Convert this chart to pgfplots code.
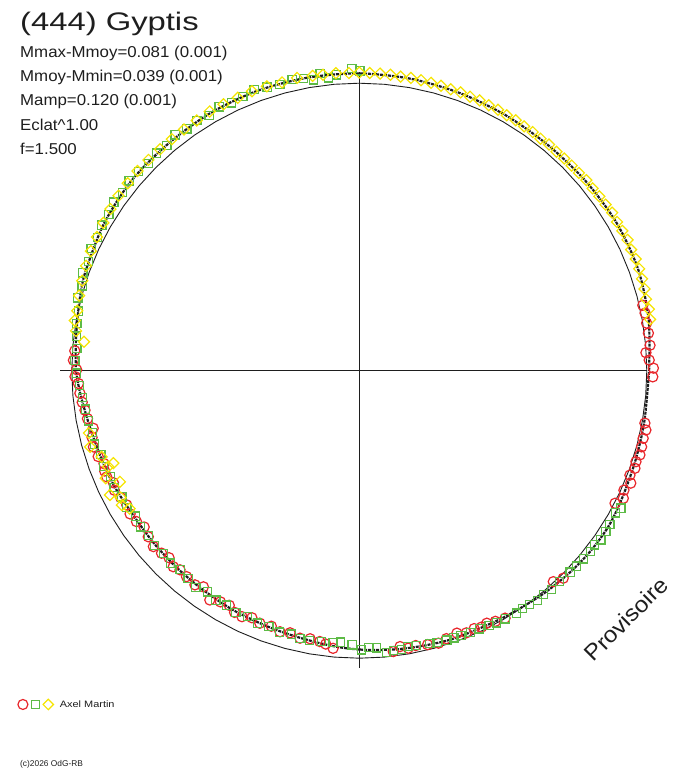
\documentclass[border=0pt]{standalone}
\usepackage{fontspec}
\setmainfont{Liberation Sans}
\usepackage{pgfplots}
\pgfplotsset{compat=1.18}
\usepgfplotslibrary{polar}
\definecolor{myred}{RGB}{232,38,43}
\definecolor{mygreen}{RGB}{93,187,70}
\definecolor{myyellow}{RGB}{245,228,0}
\definecolor{ink}{RGB}{30,30,30}
\begin{document}
\begin{tikzpicture}
\path[use as bounding box] (0,0) rectangle (688bp,768bp);
\begin{polaraxis}[
  at={(359.3bp,397.3bp)}, anchor=origin,
  hide axis, scale only axis, width=632.5bp, height=632.5bp,
  xmin=0, xmax=360, ymin=0, ymax=1.1, clip=false,
  legend style={draw=none, fill=none, at={(axis description cs:-0.0407,-0.0277)}, anchor=west,
    inner sep=0pt, outer sep=0pt, nodes={inner sep=0pt, text=ink},
    font=\fontsize{9.3}{11}\selectfont},
]
% reference circle
\addplot[ink, line width=0.9bp, forget plot] coordinates {
(0,1)(5,1)(10,1)(15,1)(20,1)(25,1)(30,1)(35,1)(40,1)(45,1)(50,1)(55,1)(60,1)(65,1)(70,1)(75,1)(80,1)(85,1)(90,1)
(95,1)(100,1)(105,1)(110,1)(115,1)(120,1)(125,1)(130,1)(135,1)(140,1)(145,1)(150,1)(155,1)(160,1)(165,1)(170,1)(175,1)(180,1)
(185,1)(190,1)(195,1)(200,1)(205,1)(210,1)(215,1)(220,1)(225,1)(230,1)(235,1)(240,1)(245,1)(250,1)(255,1)(260,1)(265,1)(270,1)
(275,1)(280,1)(285,1)(290,1)(295,1)(300,1)(305,1)(310,1)(315,1)(320,1)(325,1)(330,1)(335,1)(340,1)(345,1)(350,1)(355,1)(360,1)};
% axes cross
\addplot[ink, line width=1.2bp, forget plot] coordinates {(180,1.041) (0,1.0)};
\addplot[ink, line width=1.2bp, forget plot] coordinates {(90,1.039) (270,1.034)};
% red circles
\addplot[only marks, mark=o, mark size=5.1bp, mark options={myred, line width=1.2bp}, forget plot] coordinates {
(0.5,1.023)(2.1,1.009)(3.6,0.999)(5.0,1.015)(7.4,1.014)(9.4,1.013)(11.4,1.014)(13,1.012)
(176,0.992)(177.9,0.995)(179.8,0.983)(181.2,0.989)(182.6,0.978)(184.6,0.975)(186.5,0.970)(188.2,0.964)(190,0.960)
(192.2,0.947)(194,0.958)(196,0.962)(198.2,0.956)(200,0.945)(201.5,0.952)(202.8,0.953)(204.5,0.940)(206,0.948)
(208,0.940)(210,0.934)(212,0.940)(214.1,0.936)(216,0.925)(218.2,0.934)(220.5,0.942)(222.7,0.936)(224.5,0.928)
(226.5,0.940)(228,0.932)(230,0.935)(232.5,0.939)(234.2,0.927)(236.9,0.952)(239,0.938)(241,0.933)(242.7,0.946)
(244.5,0.948)(246.5,0.937)(248.5,0.944)(251,0.940)(253.1,0.949)(255.2,0.943)(257.5,0.953)(259.6,0.948)(261.7,0.952)
(263,0.958)(264.6,0.970)
(276.9,0.984)(278.4,0.970)(280,0.980)(281.6,0.976)(284,0.982)(286.2,0.987)(288,0.980)(290.4,0.974)(292.2,0.985)
(294,0.982)(295.5,0.988)(296.8,0.984)(298.5,0.992)(300.5,0.999)(312.6,0.997)(314.5,1.012)
(332.6,1.002)(334.2,1.020)(335.7,1.010)(337.5,1.022)(338.9,1.009)(340.5,1.017)(341.8,1.013)(343.3,1.019)
(344.9,1.017)(346.6,1.015)(348.3,1.018)(349.6,1.010)(358.8,1.021)};
% green squares
\addplot[only marks, mark=square, mark size=4.1bp, mark options={mygreen, line width=1.2bp}, forget plot] coordinates {
(89.9,1.043)(91.4,1.052)(94.4,1.032)(96,1.024)(97.5,1.043)(99,1.024)(100.8,1.035)
(103,1.040)(105.5,1.033)(108,1.037)(110.5,1.044)(113,1.036)(115.5,1.032)(118,1.039)(120.5,1.030)(123,1.037)
(125.5,1.033)(128,1.041)(130.5,1.031)(133,1.035)(135.5,1.028)(138,1.034)(140.5,1.038)(143,1.031)(145.5,1.036)
(148,1.027)(150.5,1.029)(153,1.021)(155.5,1.025)(158,1.016)(160.5,1.020)(163,1.008)(165.5,1.011)(168,0.998)
(170.5,0.996)(173,0.990)(175.5,0.985)(178,0.990)(180.5,0.983)(183,0.975)(185.5,0.968)(188,0.962)(190.5,0.958)
(193,0.952)(195.5,0.956)(198,0.945)(200.5,0.950)(203,0.940)(205.5,0.945)(208,0.935)(210.5,0.938)(213,0.929)
(215.5,0.936)(218,0.930)(220.5,0.937)(223,0.932)(225.5,0.938)(228,0.931)(230.5,0.936)(233,0.944)(235.5,0.934)
(238,0.941)(240.5,0.937)(243,0.945)(245.5,0.940)(248,0.947)(250.5,0.943)(253,0.951)(255.5,0.946)(257.5,0.955)
(259.6,0.955)(262,0.952)(264.5,0.950)(266,0.946)(268.5,0.954)(270.5,0.971)(272,0.963)(273.5,0.966)(275.5,0.985)
(277,0.981)(278.6,0.980)(280,0.975)(281.7,0.977)(284.5,0.980)(286,0.983)(288,0.985)(289.5,0.986)(291,0.987)
(293,0.990)(295,0.991)(297,0.994)(298.5,0.998)(300.5,1.002)(303,1.005)(304.5,1.004)(306,1.006)(307.8,1.012)
(309.5,1.008)(311.3,1.013)(313.5,1.012)(316.3,1.014)(318,1.016)(320,1.018)(322,1.020)(323.5,1.019)(325,1.026)
(326.9,1.024)(328.5,1.022)(331,1.020)(332.3,1.028)};
% yellow diamonds
\addplot[only marks, mark=square, mark size=3.9bp, mark options={myyellow, line width=1.2bp, rotate=45}, forget plot] coordinates {
(10,1.027)(12,1.030)(14,1.028)(16,1.032)(18,1.034)(20,1.036)(22,1.037)(24,1.035)(26,1.038)(28,1.036)(30,1.035)
(32,1.037)(34,1.033)(36,1.032)(38,1.030)(40,1.031)(42,1.028)(44,1.027)(46,1.026)(48,1.025)(50,1.027)(52,1.024)
(54,1.026)(56,1.025)(58,1.027)(60,1.026)(62,1.028)(64,1.027)(66,1.029)(68,1.028)(70,1.030)(72,1.029)(74,1.031)
(76,1.032)(78,1.033)(80,1.034)(82,1.033)(84,1.035)(86,1.036)(88,1.036)(90,1.037)(92,1.036)(94.5,1.038)(97,1.037)
(99,1.038)(102,1.041)(105,1.038)(108,1.040)(111,1.041)(114,1.039)(117,1.040)(120,1.041)(123,1.038)(126,1.037)
(129,1.036)(132,1.036)(135,1.037)(138,1.038)(141,1.036)(144,1.035)(147,1.032)(150,1.028)(153,1.024)(156,1.022)
(159,1.018)(162,1.013)(165,1.009)(168,1.003)(170,1.005)(172,0.995)(174,0.963)
(193,0.965)(195.8,0.973)(198.5,0.945)(200.6,0.914)(200.9,0.935)(203,0.958)(204.9,0.918)(206.5,0.969)(208,0.940)
(209.5,0.949)(211,0.932)};
% fitted curve
\addplot[ink, line width=2.2bp, dash pattern=on 3bp off 1bp, smooth, forget plot] coordinates {
(0,1.008)(10,1.022)(20,1.032)(30,1.032)(40,1.027)(50,1.023)(60,1.024)(70,1.027)(80,1.031)(90,1.034)(100,1.035)
(110,1.036)(120,1.035)(130,1.032)(140,1.032)(150,1.025)(160,1.013)(165,1.005)(170,0.996)(175,0.990)(180,0.985)
(185,0.973)(192,0.957)(200,0.947)(206,0.941)(213,0.933)(220,0.933)(227,0.934)(234,0.936)(242,0.941)(250,0.945)
(256,0.950)(262,0.958)(267,0.966)(272,0.972)(278,0.978)(284,0.983)(290,0.988)(300,0.994)(309,1.005)(316,1.014)
(322,1.020)(328,1.022)(334,1.016)(342,1.010)(350,1.007)(360,1.008)};
% legend
\addlegendimage{legend image code/.code={
  \draw[myred, line width=1.2bp] (0bp,0bp) circle (5bp);
  \draw[mygreen, line width=1.2bp] (8.9bp,-3.9bp) rectangle (16.7bp,3.9bp);
  \draw[myyellow, line width=1.2bp] (25.4bp,-5.2bp) -- (30.6bp,0bp) -- (25.4bp,5.2bp) -- (20.2bp,0bp) -- cycle;
  \path[draw=none] (-5.2bp,0bp) -- (37bp,0bp);
}}
\addlegendentry{\scalebox{1.18}[1]{Axel Martin}}
\end{polaraxis}
\node[anchor=base west, inner sep=0pt, text=ink] at (20bp,737bp) {\fontsize{25.5}{30}\selectfont\scalebox{1.29}[1]{(444) Gyptis}};
\node[anchor=base west, inner sep=0pt, text=ink] at (20bp,710.7bp) {\fontsize{15.8}{18}\selectfont\scalebox{1.07}[1]{Mmax-Mmoy=0.081 (0.001)}};
\node[anchor=base west, inner sep=0pt, text=ink] at (20bp,686.3bp) {\fontsize{15.8}{18}\selectfont\scalebox{1.07}[1]{Mmoy-Mmin=0.039 (0.001)}};
\node[anchor=base west, inner sep=0pt, text=ink] at (20bp,662bp) {\fontsize{15.8}{18}\selectfont\scalebox{1.07}[1]{Mamp=0.120 (0.001)}};
\node[anchor=base west, inner sep=0pt, text=ink] at (20bp,637.5bp) {\fontsize{15.8}{18}\selectfont\scalebox{1.07}[1]{Eclat\textasciicircum 1.00}};
\node[anchor=base west, inner sep=0pt, text=ink] at (20bp,613bp) {\fontsize{15.8}{18}\selectfont\scalebox{1.07}[1]{f=1.500}};
\node[anchor=base west, inner sep=0pt, text=ink] at (20bp,2bp) {\fontsize{8.4}{10}\selectfont (c)2026 OdG-RB};
\node[rotate=45, inner sep=0pt, text=ink] at (626bp,149bp) {\fontsize{22.5}{26}\selectfont\scalebox{1.08}[1]{Provisoire}};
\end{tikzpicture}
\end{document}
